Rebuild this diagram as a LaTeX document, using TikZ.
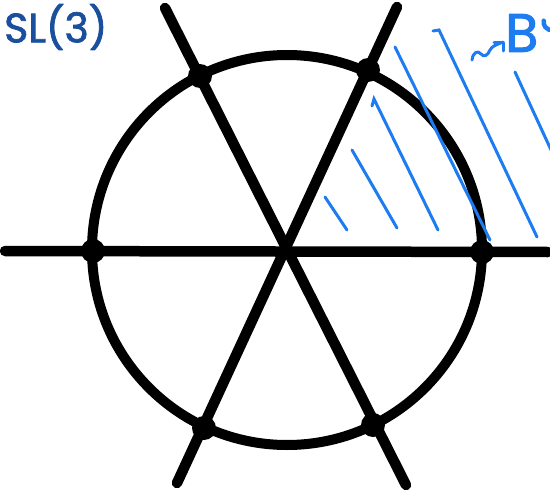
\documentclass[tikz,border=0pt]{standalone}
\usepackage{fontspec}
\setmainfont{Poppins}
\newfontfamily\handfont{Poppins}[BoldFont=Poppins, BoldFeatures={FakeBold=1.8}]
\usetikzlibrary{arrows.meta}
\definecolor{navy}{HTML}{1A4F9E}
\definecolor{hatch}{HTML}{1C7CF0}
\tikzset{
  axis/.style={line width=10.5pt, line cap=round, black},
  vdot/.style={circle, fill=black, inner sep=0pt, minimum size=24pt},
  hatchline/.style={line width=3pt, line cap=round, hatch},
}
\begin{document}
\begin{tikzpicture}[x=1pt,y=-1pt]
\useasboundingbox (0,0) rectangle (550,490);
% centre
\coordinate (O) at (287,250);
% axis ends
\coordinate (h1) at (5,251);
\coordinate (h2) at (548,252);
\coordinate (a1) at (165,8);
\coordinate (a2) at (406,485);
\coordinate (b1) at (397,7);
\coordinate (b2) at (177,483);
\draw[line width=10pt, black] (O) circle[radius=195];
\draw[axis] (h1) -- (h2);
\draw[axis] (a1) -- (a2);
\draw[axis] (b1) -- (b2);
% dots
\node[vdot] (d1) at (93,251) {};
\node[vdot] (d2) at (482,252) {};
\node[vdot] (d3) at (200,76) {};
\node[vdot] (d4) at (368,70) {};
\node[vdot] (d5) at (204,428) {};
\node[vdot] (d6) at (373,425) {};
% hatching
\draw[hatchline] (325,197) -- (347,230);
\draw[hatchline] (352,150) -- (397,228);
\draw[hatchline] (372,106) -- (374,99) -- (438,230);
\draw[hatchline] (395,47) -- (490,240);
\draw[hatchline] (433,31) -- (439,30) -- (537,237);
\draw[hatchline] (515,72) -- (558,165);
% label
\node[anchor=west, text=navy, inner sep=0pt, font=\fontsize{41}{44}\handfont\bfseries] (sl) at (4,27) {SL(3)};
\coordinate (sq1) at (472,60);
\coordinate (sq2) at (503,42);
\draw[hatch, line width=3pt, line cap=round, line join=round] (sq1) .. controls (473,52) and (478,50) .. (481,54) .. controls (484,58) and (488,55) .. (490,50) .. controls (492,46) and (496,45) .. (sq2);
\draw[hatch, line width=3pt, line cap=round, line join=round] (494,42) -- (sq2) -- (503,51);
\node[anchor=west, text=hatch, inner sep=0pt, font=\fontsize{54}{58}\handfont\bfseries] (bo) at (505,33) {B};
\draw[hatch, line width=4.5pt, line cap=round] (553,30) arc[start angle=80, end angle=190, radius=8];
\end{tikzpicture}
\end{document}
